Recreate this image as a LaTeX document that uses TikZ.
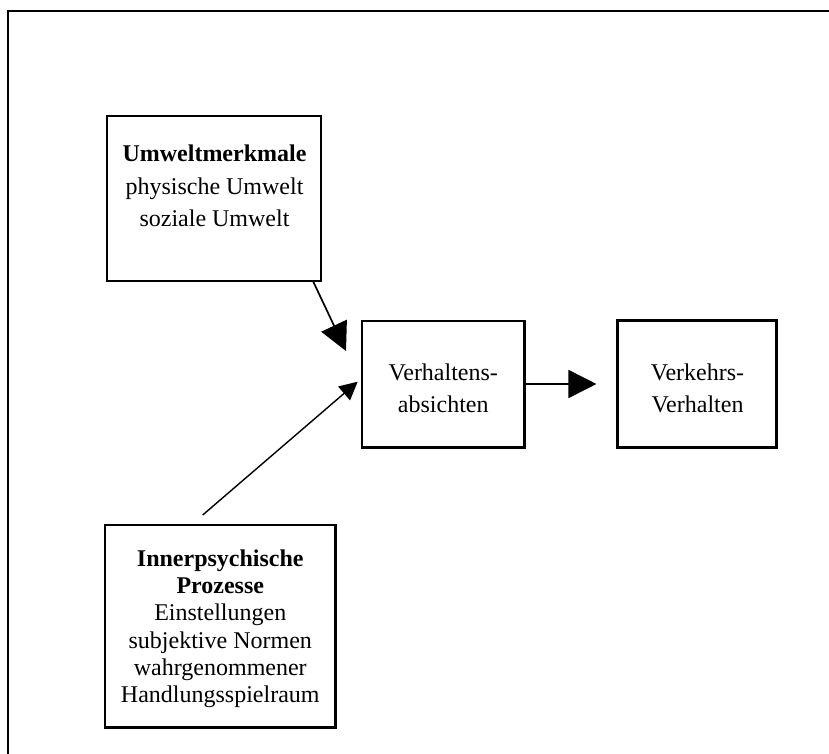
\documentclass[tikz,border=0pt]{standalone}
\usepackage{fontspec}
\setmainfont{Liberation Serif}
\usetikzlibrary{arrows.meta}
\begin{document}
\begin{tikzpicture}[x=1pt,y=-1pt,
  boxnode/.style={draw,line width=2.4pt,rectangle,inner sep=0pt},
  txt/.style={align=center,anchor=base,inner sep=0pt},
  conn/.style={line width=1.7pt},
  bighead/.style={-{Triangle[length=28pt,width=28pt]}},
  smallhead/.style={-{Triangle[length=18pt,width=18pt]}}]
\useasboundingbox (0,0) rectangle (829,754);
\clip (0,0) rectangle (829,754);
% outer frame
\draw[line width=2.2pt] (8,770) -- (8,11) -- (845,11);
% boxes
\node[boxnode,minimum width=214.3pt,minimum height=165pt] (umwelt) at (213.85,198.5) {};
\node[boxnode,minimum width=162.6pt,minimum height=126.6pt] (verh) at (443,384) {};
\node[boxnode,minimum width=158.7pt,minimum height=126.7pt] (verk) at (697,384) {};
\node[boxnode,minimum width=230.3pt,minimum height=202.3pt] (inner) at (220.2,626.2) {};
% texts (base anchor = last line)
\node[txt,font=\fontsize{24}{32.7}\selectfont] (umweltT) at (214.5,226.7)
  {\textbf{Umweltmerkmale}\\physische Umwelt\\soziale Umwelt};
\node[txt,font=\fontsize{24}{32.7}\selectfont] (verhT) at (443.3,412.7)
  {Verhaltens-\\absichten};
\node[txt,font=\fontsize{24}{32.3}\selectfont] (verkT) at (697.5,412.3)
  {Verkehrs-\\Verhalten};
\node[txt,font=\fontsize{24}{27.3}\selectfont] (innerT) at (220.3,702.7)
  {\textbf{Innerpsychische}\\\textbf{Prozesse}\\Einstellungen\\subjektive Normen\\wahrgenommener\\Handlungsspielraum};
% connectors
\coordinate (a1s) at (313.3,281.7);
\coordinate (a1e) at (346,351);
\coordinate (a2s) at (202.7,515);
\coordinate (a2e) at (357.7,381.7);
\draw[conn,bighead] (a1s) -- (a1e);
\draw[conn,line width=1.4pt,smallhead] (a2s) -- (a2e);
\draw[conn,bighead,shorten >=20pt] (verh) -- (verk);
\end{tikzpicture}
\end{document}
